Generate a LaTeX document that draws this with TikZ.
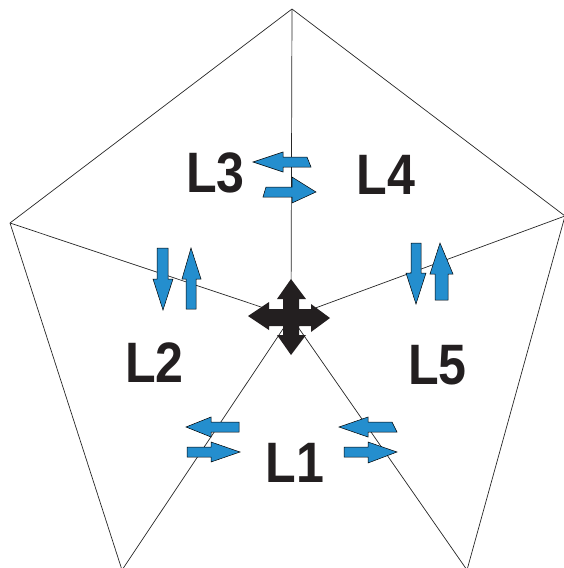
\documentclass[tikz,border=0pt]{standalone}
\usepackage{fontspec}
\setmainfont{Liberation Sans}
\usepackage{graphicx}
\definecolor{arrowblue}{RGB}{36,142,206}
\definecolor{crossblack}{RGB}{35,31,32}
\begin{document}
\begin{tikzpicture}[x=1pt,y=-1pt,
  edge/.style={line width=0.7pt, draw=black!85},
  blockarrow/.style={fill=arrowblue, draw=black, line width=0.5pt, line join=miter},
  crossfill/.style={fill=crossblack},
  lbl/.style={font=\fontsize{57}{60}\selectfont\bfseries, inner sep=0pt, text=crossblack}]
\useasboundingbox (0,0) rectangle (563,568);
% vertices
\coordinate (T) at (292,9);
\coordinate (Lv) at (10,223);
\coordinate (Rv) at (565,216);
\coordinate (BL) at (122,570);
\coordinate (BR) at (467,570);
\coordinate (C) at (291,317);
% pentagon edges and spokes
\draw[edge] (BL) -- (Lv) -- (T) -- (Rv) -- (BR);
\foreach \v in {T,Lv,Rv,BL,BR} \draw[edge] (C) -- (\v);
% central four-way arrow
\fill[crossfill] (291,279) -- (306,299) -- (299,299) -- (299,309) -- (311,309) -- (311,304) -- (330,318) -- (311,332) -- (311,326) -- (299,326) -- (299,335) -- (306,335) -- (291,355) -- (277,335) -- (283,335) -- (283,326) -- (269,326) -- (269,330) -- (248,316) -- (269,302) -- (269,309) -- (283,309) -- (283,299) -- (277,299) -- cycle;
% L3 arrows
\draw[blockarrow] (253,162) -- (283,152) -- (283,157) -- (307,157) -- (311,167) -- (283,167) -- (283,172) -- cycle;
\draw[blockarrow] (316,192) -- (292,177) -- (292,187) -- (266,187) -- (263,197) -- (292,197) -- (292,203) -- cycle;
% L2 arrows
\draw[blockarrow] (157,248) -- (168,248) -- (168,279) -- (173,279) -- (163,310) -- (153,279) -- (157,279) -- cycle;
\draw[blockarrow] (191,248) -- (201,279) -- (196,279) -- (196,309) -- (186,309) -- (186,279) -- (182,279) -- cycle;
% L5 arrows
\draw[blockarrow] (411,243) -- (421,243) -- (421,273) -- (426,273) -- (416,304) -- (406,273) -- (411,273) -- cycle;
\draw[blockarrow] (440,243) -- (453,274) -- (448,274) -- (448,300) -- (435,300) -- (435,274) -- (430,274) -- cycle;
% L1 arrows (left)
\draw[blockarrow] (186,427) -- (211,417) -- (211,422) -- (239,422) -- (239,432) -- (211,432) -- (211,437) -- cycle;
\draw[blockarrow] (240,452) -- (211,442) -- (211,447) -- (187,447) -- (187,457) -- (211,457) -- (211,462) -- cycle;
% L1 arrows (right)
\draw[blockarrow] (339,427) -- (368,417) -- (368,422) -- (392,422) -- (397,432) -- (368,432) -- (368,437) -- cycle;
\draw[blockarrow] (397,452) -- (368,442) -- (368,447) -- (344,447) -- (344,457) -- (368,457) -- (368,463) -- cycle;
% labels
\node[lbl] (L3) at (215.5,172.5) {\scalebox{0.88}[1]{L3}};
\node[lbl] (L4) at (386,175) {\scalebox{0.88}[1]{L4}};
\node[lbl] (L2) at (154.5,362.5) {\scalebox{0.88}[1]{L2}};
\node[lbl] (L5) at (437.5,365) {\scalebox{0.88}[1]{L5}};
\node[lbl] (L1) at (295,462.5) {\scalebox{0.88}[1]{L1}};
\end{tikzpicture}
\end{document}
